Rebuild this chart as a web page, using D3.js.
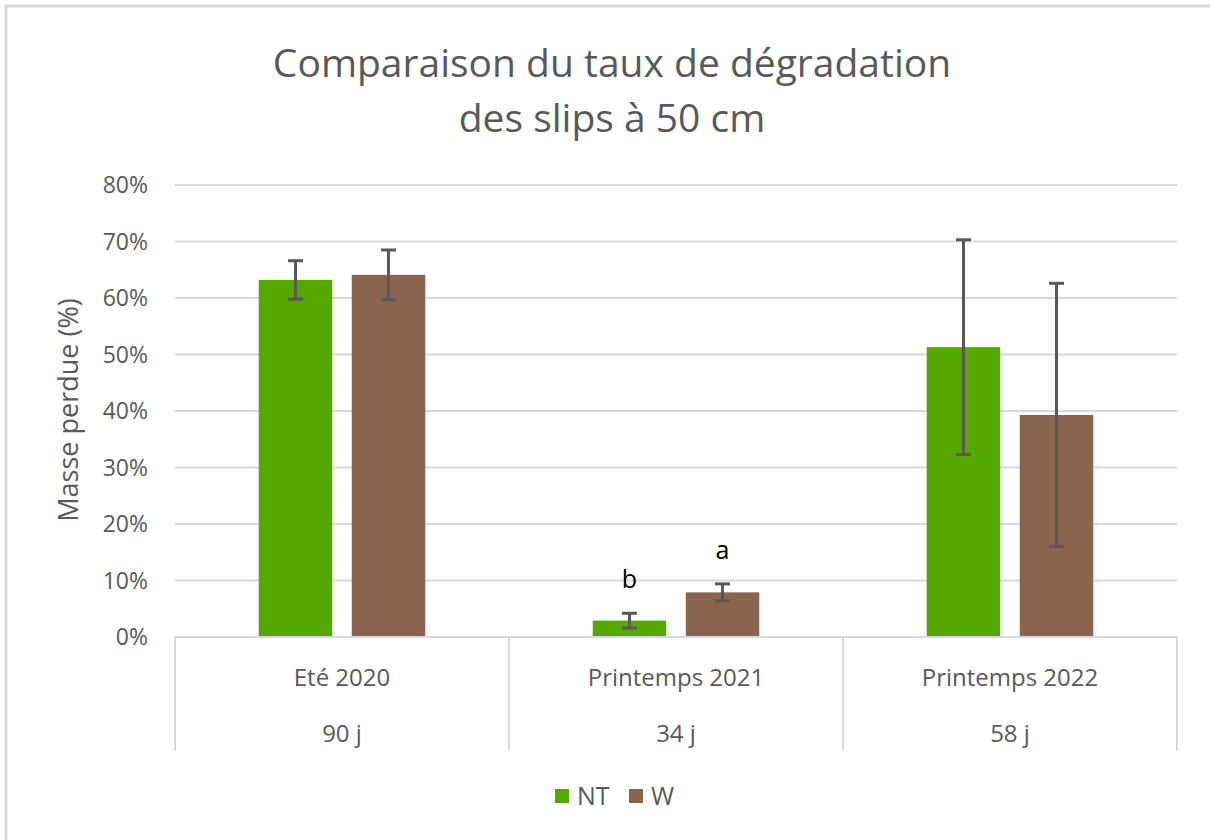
<!DOCTYPE html>
<html><head><meta charset="utf-8">
<script src="https://cdn.jsdelivr.net/npm/d3@7"></script>
<style>body{margin:0;background:#fff;}svg{display:block;}</style>
</head><body>
<svg id="c" width="1210" height="840"></svg>
<script>
const categories = ["Eté 2020", "Printemps 2021", "Printemps 2022"];
const durations = ["90 j", "34 j", "58 j"];
const seriesNames = ["NT", "W"];
const ntValues = [63.2, 2.9, 51.3];
const wValues = [64.1, 7.9, 39.3];
const ntErrors = [3.4, 1.3, 19.0];
const wErrors = [4.4, 1.5, 23.3];
const letters = [null, "b", null];
const lettersW = [null, "a", null];
const yTicks = [0, 10, 20, 30, 40, 50, 60, 70, 80];
const colors = ["#55A800", "#8B6450"];

(function () {
const svg = d3.select("#c");
const font = "'Open Sans', 'Noto Sans', sans-serif";
const grey = "#595959";

// outer frame
svg.append("rect").attr("x", 6).attr("y", 6).attr("width", 1220).attr("height", 850)
  .attr("fill", "#fff").attr("stroke", "#d9d9d9").attr("stroke-width", 3);

const pLeft = 175, pRight = 1177, pTop = 185, pBottom = 637;
const y = d3.scaleLinear().domain([0, 80]).range([pBottom, pTop]);
const x0 = d3.scaleBand().domain(categories).range([pLeft, pRight]).paddingInner(0).paddingOuter(0);
const x1 = d3.scaleBand().domain(seriesNames).range([0, x0.bandwidth()]).paddingInner(0.21).paddingOuter(0.9);

// gridlines
svg.append("g").selectAll("line").data(yTicks.filter(d => d > 0)).join("line")
  .attr("x1", pLeft).attr("x2", pRight).attr("y1", d => y(d)).attr("y2", d => y(d))
  .attr("stroke", "#d9d9d9").attr("stroke-width", 2);

// y tick labels
svg.append("g").selectAll("text").data(yTicks).join("text")
  .attr("x", 148).attr("y", d => y(d)).attr("dy", "0.35em").attr("text-anchor", "end")
  .attr("font-family", font).attr("font-size", 23).attr("fill", grey)
  .text(d => d + "%");

// y axis title
svg.append("text").attr("transform", "translate(78,410) rotate(-90)")
  .attr("text-anchor", "middle").attr("font-family", font).attr("font-size", 27).attr("fill", grey)
  .text("Masse perdue (%)");

// title
const title = svg.append("text").attr("text-anchor", "middle").attr("font-family", font)
  .attr("font-size", 39).attr("fill", grey);
title.append("tspan").attr("x", 612).attr("y", 77).text("Comparaison du taux de dégradation");
title.append("tspan").attr("x", 612).attr("y", 132).text("des slips à 50 cm");

// bars
const data = categories.map((c, i) => ({
  cat: c,
  vals: [
    { s: "NT", v: ntValues[i], e: ntErrors[i], c: colors[0], l: letters[i] },
    { s: "W", v: wValues[i], e: wErrors[i], c: colors[1], l: lettersW[i] }
  ]
}));

const groups = svg.append("g").selectAll("g").data(data).join("g")
  .attr("transform", d => `translate(${x0(d.cat)},0)`);

groups.selectAll("rect").data(d => d.vals).join("rect")
  .attr("x", d => x1(d.s)).attr("width", x1.bandwidth())
  .attr("y", d => y(d.v)).attr("height", d => y(0) - y(d.v))
  .attr("fill", d => d.c);

// error bars
const eb = groups.selectAll("g.eb").data(d => d.vals).join("g").attr("class", "eb");
eb.append("line")
  .attr("x1", d => x1(d.s) + x1.bandwidth() / 2).attr("x2", d => x1(d.s) + x1.bandwidth() / 2)
  .attr("y1", d => y(d.v + d.e)).attr("y2", d => y(d.v - d.e))
  .attr("stroke", grey).attr("stroke-width", 3);
eb.selectAll("line.cap").data(d => [
  { cx: x1(d.s) + x1.bandwidth() / 2, yy: y(d.v + d.e) },
  { cx: x1(d.s) + x1.bandwidth() / 2, yy: y(d.v - d.e) }
]).join("line").attr("class", "cap")
  .attr("x1", d => d.cx - 7.5).attr("x2", d => d.cx + 7.5)
  .attr("y1", d => d.yy).attr("y2", d => d.yy)
  .attr("stroke", grey).attr("stroke-width", 3);

// significance letters
groups.selectAll("text.let").data(d => d.vals.filter(v => v.l)).join("text").attr("class", "let")
  .attr("x", d => x1(d.s) + x1.bandwidth() / 2)
  .attr("y", d => y(d.v + d.e) - 25)
  .attr("text-anchor", "middle").attr("font-family", font).attr("font-size", 25).attr("fill", "#000")
  .text(d => d.l);

// baseline & category separators
svg.append("line").attr("x1", pLeft).attr("x2", pRight).attr("y1", pBottom).attr("y2", pBottom)
  .attr("stroke", "#d9d9d9").attr("stroke-width", 2);
const seps = [pLeft].concat(categories.map(c => x0(c) + x0.bandwidth()));
svg.append("g").selectAll("line").data(seps).join("line")
  .attr("x1", d => d).attr("x2", d => d).attr("y1", pBottom).attr("y2", 751)
  .attr("stroke", "#d9d9d9").attr("stroke-width", 2);

// category labels
svg.append("g").selectAll("text").data(categories).join("text")
  .attr("x", d => x0(d) + x0.bandwidth() / 2).attr("y", 686)
  .attr("text-anchor", "middle").attr("font-family", font).attr("font-size", 24).attr("fill", grey)
  .text(d => d);
svg.append("g").selectAll("text").data(durations).join("text")
  .attr("x", (d, i) => x0(categories[i]) + x0.bandwidth() / 2).attr("y", 742)
  .attr("text-anchor", "middle").attr("font-family", font).attr("font-size", 24).attr("fill", grey)
  .text(d => d);

// legend
const legX = [555, 629];
const leg = svg.append("g").selectAll("g").data(seriesNames).join("g")
  .attr("transform", (d, i) => `translate(${legX[i]},789)`);
leg.append("rect").attr("width", 14).attr("height", 14).attr("fill", (d, i) => colors[i]);
leg.append("text").attr("x", 22).attr("y", 7).attr("dy", "0.36em")
  .attr("font-family", font).attr("font-size", 25).attr("fill", grey).text(d => d);
})();
</script>
</body></html>
